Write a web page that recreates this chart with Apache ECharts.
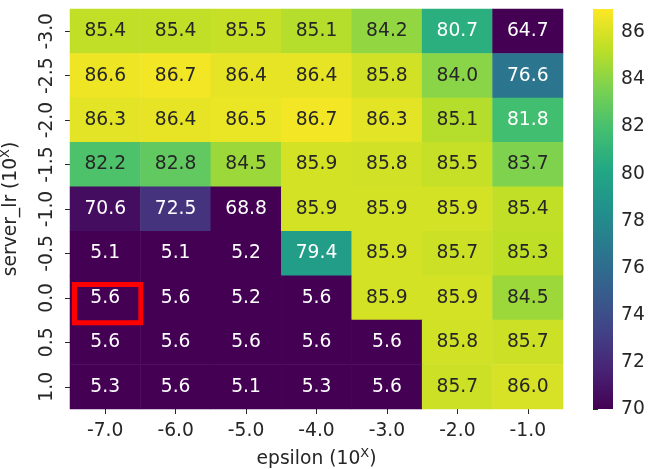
<!DOCTYPE html>
<html>
<head>
<meta charset="utf-8">
<script src="https://cdn.jsdelivr.net/npm/echarts@6/dist/echarts.min.js"></script>
<style>
  html, body { margin: 0; padding: 0; background: #fff; }
  #chart { width: 654px; height: 469px; }
</style>
</head>
<body>
<div id="chart"></div>
<script>
// Accuracy grid over epsilon (columns) and server learning rate (rows), both as powers of ten.
const epsilonLabels = ['-7.0', '-6.0', '-5.0', '-4.0', '-3.0', '-2.0', '-1.0'];
const serverLrLabels = ['-3.0', '-2.5', '-2.0', '-1.5', '-1.0', '-0.5', '0.0', '0.5', '1.0'];

const rowLrM30 = [85.4, 85.4, 85.5, 85.1, 84.2, 80.7, 64.7];
const rowLrM25 = [86.6, 86.7, 86.4, 86.4, 85.8, 84.0, 76.6];
const rowLrM20 = [86.3, 86.4, 86.5, 86.7, 86.3, 85.1, 81.8];
const rowLrM15 = [82.2, 82.8, 84.5, 85.9, 85.8, 85.5, 83.7];
const rowLrM10 = [70.6, 72.5, 68.8, 85.9, 85.9, 85.9, 85.4];
const rowLrM05 = [5.1, 5.1, 5.2, 79.4, 85.9, 85.7, 85.3];
const rowLr00 = [5.6, 5.6, 5.2, 5.6, 85.9, 85.9, 84.5];
const rowLr05 = [5.6, 5.6, 5.6, 5.6, 5.6, 85.8, 85.7];
const rowLr10 = [5.3, 5.6, 5.1, 5.3, 5.6, 85.7, 86.0];

const colorbarTicks = [70, 72, 74, 76, 78, 80, 82, 84, 86];
const highlightCell = [0, 6]; // epsilon -7.0, server_lr 0.0

const rows = [rowLrM30, rowLrM25, rowLrM20, rowLrM15, rowLrM10, rowLrM05, rowLr00, rowLr05, rowLr10];
const vmin = 70, vmax = 87;

const viridis = ['#440154', '#482475', '#414487', '#355f8d', '#2a788e', '#21918c',
                 '#22a884', '#44bf70', '#7ad151', '#bddf26', '#fde725'];

const FONT = 'DejaVu Sans';
const FS = 18.7;
const DARK = '#262626';

const heatData = [];
rows.forEach((row, yi) => {
  row.forEach((v, xi) => {
    heatData.push({
      value: [xi, yi, v],
      label: { color: v >= 82 ? DARK : '#ffffff' }
    });
  });
});

const titleRich = {
  a: { fontFamily: FONT, fontSize: FS, color: DARK },
  s: { fontFamily: FONT, fontSize: 13, color: DARK, padding: [0, 0, 12, 0] }
};

const chart = echarts.init(document.getElementById('chart'), null, { renderer: 'canvas' });

chart.setOption({
  backgroundColor: '#ffffff',
  animation: false,
  textStyle: { fontFamily: FONT },
  grid: [
    { left: 70, top: 9, width: 493, height: 400, containLabel: false, outerBoundsMode: 'none' },
    { left: 593, top: 9, width: 20, height: 400, containLabel: false, outerBoundsMode: 'none' }
  ],
  xAxis: [
    {
      type: 'category', gridIndex: 0, data: epsilonLabels,
      axisLine: { show: false },
      axisTick: { show: true, alignWithLabel: true, length: 5, lineStyle: { color: DARK, width: 1 } },
      axisLabel: { fontFamily: FONT, fontSize: FS, color: DARK, margin: 13, interval: 0 },
      splitLine: { show: false },
      name: '{a|epsilon (10}{s|X}{a|)}',
      nameLocation: 'middle', nameGap: 38,
      nameTextStyle: { rich: titleRich }
    },
    { type: 'value', gridIndex: 1, min: 0, max: 1, show: false }
  ],
  yAxis: [
    {
      type: 'category', gridIndex: 0, data: serverLrLabels, inverse: true,
      axisLine: { show: false },
      axisTick: { show: true, alignWithLabel: true, length: 5, lineStyle: { color: DARK, width: 1 } },
      axisLabel: { fontFamily: FONT, fontSize: FS, color: DARK, rotate: 90, margin: 13, interval: 0 },
      splitLine: { show: false },
      name: '{a|server_lr (10}{s|X}{a|)}',
      nameLocation: 'middle', nameGap: 46, nameRotate: 90,
      nameTextStyle: { rich: titleRich }
    },
    {
      type: 'value', gridIndex: 1, min: vmin, max: vmax, interval: 2, position: 'right',
      axisLine: { show: false },
      axisTick: { show: true, length: 5, lineStyle: { color: DARK, width: 1 } },
      axisLabel: {
        fontFamily: FONT, fontSize: FS, color: DARK, margin: 8,
        formatter: v => (colorbarTicks.indexOf(v) >= 0 ? String(v) : '')
      },
      splitLine: { show: false }
    }
  ],
  visualMap: {
    type: 'continuous', show: false, seriesIndex: 0, dimension: 2,
    min: vmin, max: vmax,
    inRange: { color: viridis },
    outOfRange: { color: viridis[0] }
  },
  series: [
    {
      type: 'heatmap', xAxisIndex: 0, yAxisIndex: 0,
      data: heatData,
      label: {
        show: true, fontFamily: FONT, fontSize: FS,
        formatter: p => p.value[2].toFixed(1)
      },
      itemStyle: { borderWidth: 0 },
      emphasis: { disabled: true }
    },
    {
      // red outline around the highlighted cell
      type: 'custom', xAxisIndex: 0, yAxisIndex: 0,
      data: [highlightCell],
      silent: true, z: 10,
      renderItem: (params, api) => {
        const c = api.coord([api.value(0), api.value(1)]);
        const s = api.size([1, 1]);
        const x0 = c[0] - s[0] / 2, y0 = c[1] - s[1] / 2;
        return {
          type: 'rect',
          shape: {
            x: x0 + s[0] * 0.064, y: y0 + s[1] * 0.2,
            width: s[0] * 0.942, height: s[1] * 0.86
          },
          style: { fill: null, stroke: '#ff0000', lineWidth: 5 }
        };
      }
    },
    {
      // colour bar
      type: 'custom', xAxisIndex: 1, yAxisIndex: 1,
      data: [[0, vmin, vmax]],
      silent: true,
      renderItem: (params, api) => {
        const p0 = api.coord([0, api.value(1)]);
        const p1 = api.coord([1, api.value(2)]);
        const stops = viridis.map((c, i) => ({ offset: i / (viridis.length - 1), color: c }));
        return {
          type: 'rect',
          shape: { x: p0[0], y: p1[1], width: p1[0] - p0[0], height: p0[1] - p1[1] },
          style: { fill: new echarts.graphic.LinearGradient(0, 1, 0, 0, stops) }
        };
      }
    }
  ]
});
</script>
</body>
</html>
